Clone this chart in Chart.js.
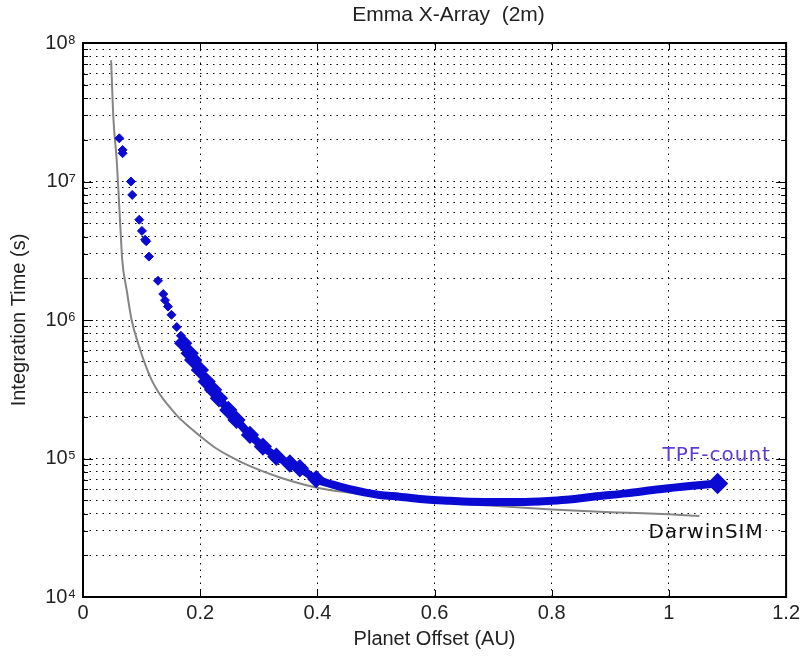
<!DOCTYPE html>
<html>
<head>
<meta charset="UTF-8" />
<script src="https://cdn.jsdelivr.net/npm/chart.js"></script>
<style>
  html, body { margin: 0; padding: 0; background: #fff; }
  #chart { display: block; }
</style>
</head>
<body>
<canvas id="chart" width="804" height="657"></canvas>
<script>
// values
const darwinOffset = [0.048, 0.052, 0.0575, 0.0614, 0.064, 0.067, 0.0745, 0.083, 0.095, 0.106, 0.117, 0.128, 0.138, 0.148, 0.16, 0.175, 0.2, 0.225, 0.25, 0.285, 0.336, 0.404, 0.45, 0.52, 0.6, 0.7, 0.8, 0.9, 1.0, 1.052];
const darwinTime = [7.5e7, 2.8e7, 1.43e7, 7.3e6, 4.5e6, 2.7e6, 1.65e6, 1.0e6, 6.6e5, 4.8e5, 3.7e5, 3.05e5, 2.65e5, 2.35e5, 2.05e5, 1.78e5, 1.45e5, 1.2e5, 1.04e5, 8.8e4, 7.3e4, 6.1e4, 5.7e4, 5.3e4, 4.9e4, 4.55e4, 4.28e4, 4.1e4, 3.95e4, 3.85e4];

// TPF-count: separate diamonds at small offsets, then a dense band
const tpfOffset = [0.062, 0.0676, 0.0676, 0.0818, 0.084, 0.096, 0.1006, 0.106, 0.108, 0.1125, 0.128, 0.137, 0.140, 0.145, 0.151, 0.160, 0.167,
  0.171, 0.182, 0.188, 0.1995, 0.211, 0.222, 0.232, 0.248, 0.262, 0.285, 0.307, 0.330, 0.353, 0.37, 0.398, 0.425, 0.455, 0.506, 0.54, 0.586, 0.626, 0.66, 0.711, 0.745, 0.80, 0.83, 0.87, 0.927, 0.984, 1.04, 1.083];
const tpfTime = [2.05e7, 1.69e7, 1.6e7, 1.0e7, 8.0e6, 5.3e6, 4.4e6, 3.8e6, 3.7e6, 2.87e6, 1.92e6, 1.54e6, 1.39e6, 1.25e6, 1.09e6, 8.9e5, 7.7e5,
  6.8e5, 5.75e5, 5.15e5, 4.36e5, 3.59e5, 3.13e5, 2.72e5, 2.24e5, 1.9e5, 1.48e5, 1.22e5, 1.03e5, 9.2e4, 8.5e4, 7.1e4, 6.5e4, 6.0e4, 5.45e4, 5.3e4, 5.05e4, 4.95e4, 4.88e4, 4.85e4, 4.85e4, 4.95e4, 5.05e4, 5.3e4, 5.6e4, 6.0e4, 6.35e4, 6.6e4];
const tpfSparseCount = 17;

const xTicks = [0, 0.2, 0.4, 0.6, 0.8, 1, 1.2];
const xTickLabels = ['0', '0.2', '0.4', '0.6', '0.8', '1', '1.2'];
const yDecades = [1e4, 1e5, 1e6, 1e7, 1e8];
const yTickLabels = ['10\u2074', '10\u2075', '10\u2076', '10\u2077', '10\u2078'];
const yMinorSteps = [2, 3, 4, 5, 6, 7, 8, 9];

const toPoints = (xs, ys) => xs.map((x, i) => ({ x, y: ys[i] }));

const yTicks = [];
yDecades.forEach((d, i) => {
  yTicks.push({ value: d, major: true });
  if (i < yDecades.length - 1) yMinorSteps.forEach(s => yTicks.push({ value: d * s }));
});

const BLUE = '#0a0ad2';
const FONT = "'Liberation Sans', Arial, sans-serif";
const bandData = toPoints(tpfOffset.slice(tpfSparseCount), tpfTime.slice(tpfSparseCount));

// inner tick marks, frame, title and the two curve labels
const framePlugin = {
  id: 'frame',
  afterDatasetsDraw(chart) {
    const { ctx, chartArea: a, scales: { x, y } } = chart;
    ctx.save();
    ctx.strokeStyle = '#000';
    ctx.lineWidth = 1;
    ctx.beginPath();
    y.ticks.forEach(t => {
      const py = Math.round(y.getPixelForValue(t.value)) + 0.5;
      const len = t.major ? 10 : 5;
      ctx.moveTo(a.left, py); ctx.lineTo(a.left + len, py);
      ctx.moveTo(a.right, py); ctx.lineTo(a.right - len, py);
    });
    x.ticks.forEach(t => {
      const px = Math.round(x.getPixelForValue(t.value)) + 0.5;
      ctx.moveTo(px, a.bottom); ctx.lineTo(px, a.bottom - 7);
      ctx.moveTo(px, a.top); ctx.lineTo(px, a.top + 7);
    });
    ctx.stroke();
    ctx.lineWidth = 2;
    ctx.strokeRect(a.left, a.top, a.right - a.left, a.bottom - a.top);

    ctx.fillStyle = '#222';
    ctx.font = '21px ' + FONT;
    ctx.textAlign = 'center';
    ctx.textBaseline = 'middle';
    ctx.fillText('Emma X-Array  (2m)', (a.left + a.right) / 2 + 14, 15);

    ctx.textAlign = 'left';
    ctx.font = "20px 'DejaVu Sans', sans-serif";
    ctx.letterSpacing = '1px';
    ctx.fillStyle = '#5e3bd6';
    ctx.fillText('TPF-count', x.getPixelForValue(0.989), y.getPixelForValue(1.04e5));
    ctx.fillStyle = '#111';
    ctx.fillText('DarwinSIM', x.getPixelForValue(0.965), y.getPixelForValue(2.9e4));
    ctx.restore();
  }
};

new Chart(document.getElementById('chart'), {
  type: 'scatter',
  data: {
    datasets: [
      {
        label: 'TPF-count',
        data: toPoints(tpfOffset.slice(0, tpfSparseCount), tpfTime.slice(0, tpfSparseCount)),
        showLine: false,
        pointStyle: 'rectRot',
        pointRadius: 4.5,
        backgroundColor: BLUE,
        borderColor: BLUE,
        order: 1
      },
      {
        label: 'TPF-count band',
        data: bandData,
        showLine: true,
        borderWidth: 8,
        pointStyle: 'rectRot',
        // separate diamonds still show up to ~0.4 AU, then a solid band ending in a diamond
        pointRadius: c => {
          if (c.dataIndex === bandData.length - 1) return 5;
          return c.raw && c.raw.x < 0.4 ? 3.5 : 0;
        },
        backgroundColor: BLUE,
        borderColor: BLUE,
        cubicInterpolationMode: 'monotone',
        order: 2
      },
      {
        label: 'DarwinSIM',
        data: toPoints(darwinOffset, darwinTime),
        showLine: true,
        borderColor: '#858585',
        borderWidth: 2,
        pointRadius: 0,
        cubicInterpolationMode: 'monotone',
        order: 3
      }
    ]
  },
  options: {
    responsive: false,
    animation: false,
    layout: { padding: { top: 43, right: 17, left: 0, bottom: 0 } },
    plugins: { legend: { display: false }, tooltip: { enabled: false } },
    scales: {
      x: {
        type: 'linear',
        min: 0,
        max: 1.2,
        afterBuildTicks: s => { s.ticks = xTicks.map(v => ({ value: v })); },
        afterFit: s => { s.height = 60; },
        ticks: {
          autoSkip: false,
          maxRotation: 0,
          padding: 4,
          color: '#222',
          font: { family: FONT, size: 20 },
          callback: (v, i) => xTickLabels[i]
        },
        grid: { color: '#000', lineWidth: 1, drawTicks: false },
        border: { display: false, dash: [1.5, 5] },
        title: {
          display: true,
          text: 'Planet Offset (AU)',
          color: '#222',
          font: { family: FONT, size: 20 },
          padding: { top: 0, bottom: 6 }
        }
      },
      y: {
        type: 'logarithmic',
        min: 1e4,
        max: 1e8,
        afterBuildTicks: s => { s.ticks = yTicks.map(t => ({ ...t })); },
        afterFit: s => { s.width = 83; },
        ticks: {
          autoSkip: false,
          padding: 7,
          color: '#222',
          font: { family: FONT, size: 20 },
          callback: v => {
            const i = yDecades.indexOf(v);
            return i >= 0 ? yTickLabels[i] : '';
          }
        },
        grid: { color: '#000', lineWidth: 1, drawTicks: false },
        border: { display: false, dash: [1.5, 5] },
        title: {
          display: true,
          text: 'Integration Time (s)',
          color: '#222',
          font: { family: FONT, size: 20 },
          padding: { top: 7, bottom: 0 }
        }
      }
    }
  },
  plugins: [framePlugin]
});
</script>
</body>
</html>
